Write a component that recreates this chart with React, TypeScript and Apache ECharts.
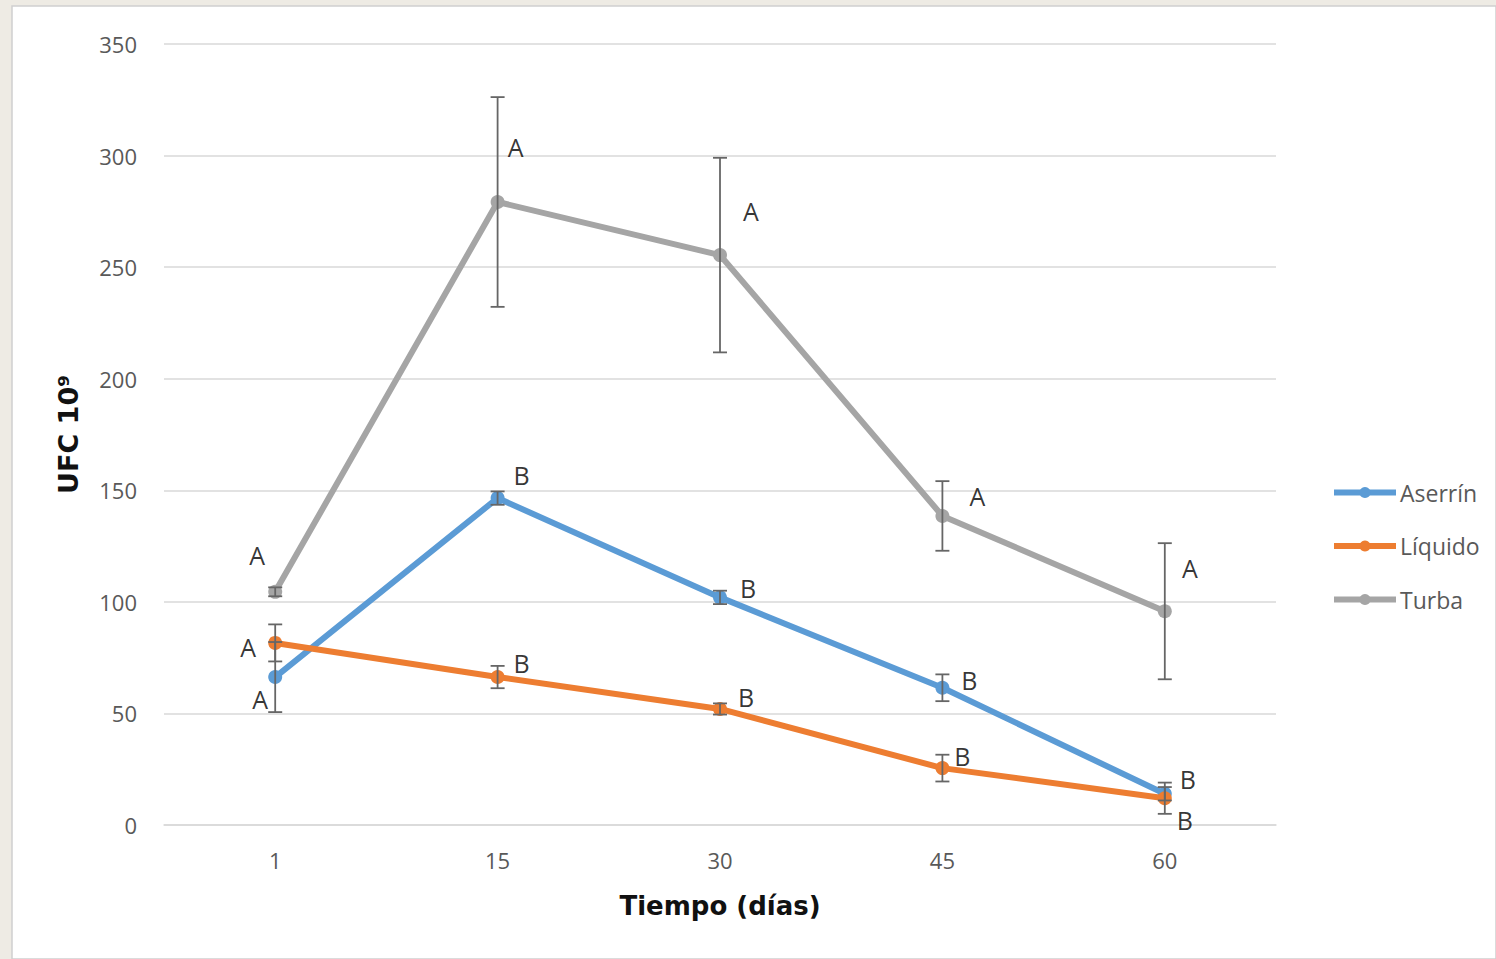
import React, { useEffect, useRef } from "react";
import * as echarts from "echarts";

// ---- data ----
const days = ["1", "15", "30", "45", "60"];
const seriesNames = ["Aserrín", "Líquido", "Turba"];

const aserrin = [66.3, 146.5, 102, 61.5, 14];
const aserrinErr = [15.7, 3, 3, 6, 3];
const aserrinLetters = ["A", "B", "B", "B", "B"];

const liquido = [81.6, 66.3, 52, 25.5, 12];
const liquidoErr = [8.3, 5, 2.5, 6, 7];
const liquidoLetters = ["A", "B", "B", "B", "B"];

const turba = [104.5, 279.2, 255.4, 138.5, 95.8];
const turbaErr = [2, 47, 43.6, 15.6, 30.5];
const turbaLetters = ["A", "A", "A", "A", "A"];

const yMin = 0;
const yMax = 350;
const yStep = 50;

// ---- layout (pixel offsets of letter labels from their points) ----
const aserrinLetterOffsets = [[-15, 22], [24, -23], [28, -9], [27, -8], [23, -15]];
const liquidoLetterOffsets = [[-27, 4], [24, -14], [26, -12], [20, -12], [20, 22]];
const turbaLetterOffsets = [[-18, -37], [18, -55], [31, -44], [35, -20], [25, -43]];

const colors = ["#5b9bd5", "#ed7d31", "#a5a5a5"];
const FONT = "Open Sans";

function errorSeries(vals: number[], errs: number[], z: number) {
  return {
    type: "custom",
    z,
    silent: true,
    data: vals.map((v, i) => [i, v - errs[i], v + errs[i]]),
    renderItem: (params: any, api: any) => {
      const lo = api.coord([api.value(0), api.value(1)]);
      const hi = api.coord([api.value(0), api.value(2)]);
      const cap = 7;
      const st = { stroke: "#666666", lineWidth: 1.8 };
      return {
        type: "group",
        children: [
          { type: "line", shape: { x1: lo[0], y1: lo[1], x2: hi[0], y2: hi[1] }, style: st },
          { type: "line", shape: { x1: lo[0] - cap, y1: lo[1], x2: lo[0] + cap, y2: lo[1] }, style: st },
          { type: "line", shape: { x1: hi[0] - cap, y1: hi[1], x2: hi[0] + cap, y2: hi[1] }, style: st },
        ],
      };
    },
  };
}

function letterSeries(vals: number[], letters: string[], offsets: number[][]) {
  return {
    type: "scatter",
    symbolSize: 0,
    silent: true,
    z: 20,
    data: vals.map((v, i) => ({
      value: [i, v],
      label: {
        show: true,
        position: "inside",
        offset: offsets[i],
        formatter: letters[i],
        fontFamily: FONT,
        fontSize: 25,
        color: "#000000",
      },
    })),
  };
}

function lineSeries(name: string, vals: number[], color: string, z: number) {
  return {
    name,
    type: "line",
    data: vals,
    z,
    symbol: "circle",
    symbolSize: 14,
    showSymbol: true,
    itemStyle: { color },
    lineStyle: { color, width: 6 },
  };
}

export default function App() {
  const ref = useRef<HTMLDivElement>(null);
  useEffect(() => {
    if (!ref.current) return;
    const chart = echarts.init(ref.current, null, { renderer: "svg" });
    chart.setOption({
      animation: false,
      backgroundColor: "#eeebe4",
      graphic: [
        {
          type: "rect",
          z: -10,
          shape: { x: 12, y: 6, width: 1484, height: 953 },
          style: { fill: "#ffffff", stroke: "#d0d0d0", lineWidth: 1.5 },
        },
      ],
      grid: { left: 164, right: 220, top: 44, bottom: 134 },
      legend: {
        data: seriesNames,
        orient: "vertical",
        left: 1331,
        top: 481,
        padding: 0,
        itemWidth: 62,
        itemHeight: 14,
        itemGap: 30.5,
        lineStyle: { width: 6 },
        textStyle: { fontFamily: FONT, fontSize: 23, color: "#595959", padding: [0, 0, 0, -1] },
      },
      xAxis: {
        type: "category",
        data: days,
        boundaryGap: true,
        axisTick: { show: false },
        axisLine: { lineStyle: { color: "#d9d9d9", width: 1.5 } },
        axisLabel: { fontFamily: FONT, fontSize: 22, color: "#595959", margin: 24 },
        name: "Tiempo (días)",
        nameLocation: "middle",
        nameGap: 68,
        nameTextStyle: { fontFamily: "DejaVu Sans", fontWeight: "bold", fontSize: 26, color: "#111" },
      },
      yAxis: {
        type: "value",
        min: yMin,
        max: yMax,
        interval: yStep,
        axisLine: { show: false },
        axisTick: { show: false },
        splitLine: { lineStyle: { color: "#d9d9d9", width: 1.5 } },
        axisLabel: { fontFamily: FONT, fontSize: 22, color: "#595959", margin: 27 },
        name: "UFC 10⁹",
        nameLocation: "middle",
        nameGap: 82,
        nameTextStyle: { fontFamily: "DejaVu Sans", fontWeight: "bold", fontSize: 27, color: "#111" },
      },
      series: [
        lineSeries(seriesNames[2], turba, colors[2], 3),
        lineSeries(seriesNames[0], aserrin, colors[0], 4),
        lineSeries(seriesNames[1], liquido, colors[1], 5),
        errorSeries(turba, turbaErr, 10),
        errorSeries(aserrin, aserrinErr, 10),
        errorSeries(liquido, liquidoErr, 10),
        letterSeries(turba, turbaLetters, turbaLetterOffsets),
        letterSeries(aserrin, aserrinLetters, aserrinLetterOffsets),
        letterSeries(liquido, liquidoLetters, liquidoLetterOffsets),
      ],
    });
    return () => chart.dispose();
  }, []);
  return (
    <div
      ref={ref}
      style={{ position: "fixed", left: 0, top: 0, width: 1496, height: 959 }}
    />
  );
}
